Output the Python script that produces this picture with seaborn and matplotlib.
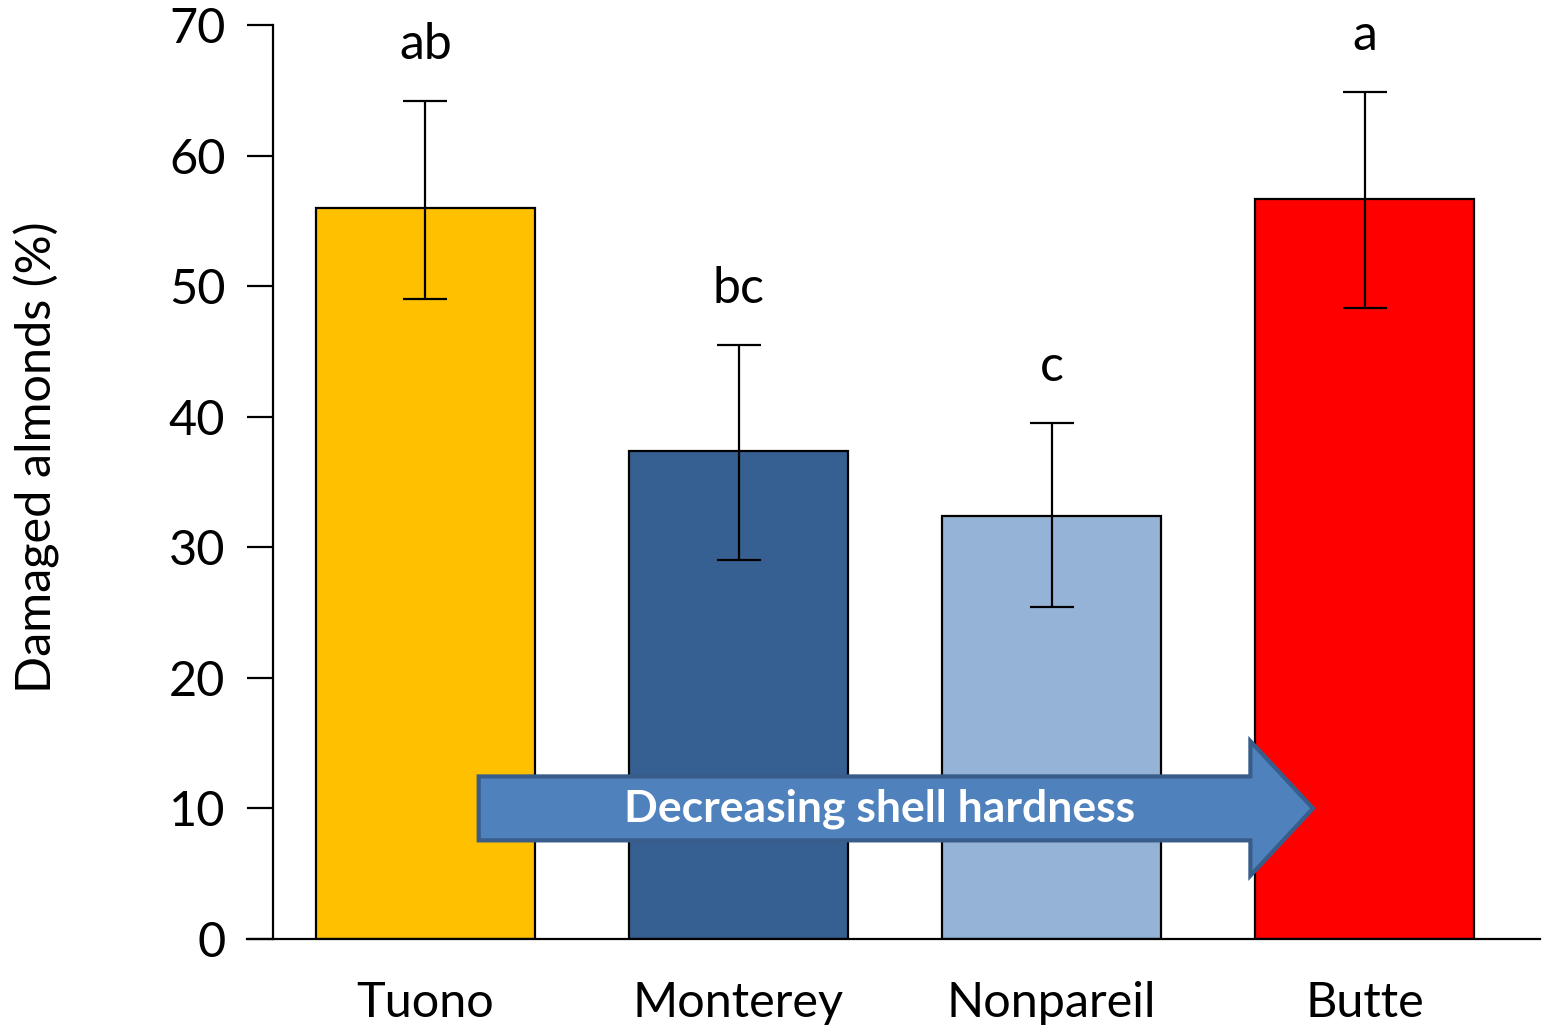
import pandas as pd
import matplotlib
matplotlib.use("Agg")
import matplotlib.pyplot as plt
import seaborn as sns
from matplotlib.patches import FancyArrow

# values
cultivars = ["Tuono", "Monterey", "Nonpareil", "Butte"]
damaged_pct = [56.0, 37.4, 32.4, 56.7]
err_high = [64.2, 45.5, 39.5, 64.9]
err_low = [49.0, 29.0, 25.4, 48.3]
letters = ["ab", "bc", "c", "a"]
bar_colors = ["#FFC000", "#376092", "#95B3D7", "#FF0000"]

df = pd.DataFrame({"cultivar": cultivars, "damaged": damaged_pct})

sns.set_theme(style="white")
plt.rcParams["font.family"] = ["Lato", "DejaVu Sans"]

fig = plt.figure(figsize=(15.44, 10.29), dpi=100)
ax = fig.add_axes([0.16, 0.0875, 0.8374, 0.8882])

sns.barplot(data=df, x="cultivar", y="damaged", hue="cultivar", order=cultivars,
            palette=dict(zip(cultivars, bar_colors)), legend=False, width=0.7,
            edgecolor="black", linewidth=1.6, saturation=1, ax=ax)

yerr = [[m - lo for m, lo in zip(damaged_pct, err_low)],
        [hi - m for m, hi in zip(damaged_pct, err_high)]]
ax.errorbar(range(len(cultivars)), damaged_pct, yerr=yerr, fmt="none",
            ecolor="black", elinewidth=1.6, capsize=16, capthick=1.6, zorder=3)

for i, (lab, hi) in enumerate(zip(letters, err_high)):
    ax.text(i, hi + 3.2, lab, ha="center", va="baseline", fontsize=36, color="black")

# decreasing shell hardness arrow
arrow = FancyArrow(0.17, 10, 2.665, 0, width=4.9, head_width=10.3, head_length=0.2,
                   length_includes_head=True, facecolor="#4F81BD", edgecolor="#385D8A",
                   linewidth=3, zorder=4)
ax.add_patch(arrow)
ax.text(1.45, 10, "Decreasing shell hardness", ha="center", va="center",
        fontsize=32, fontweight="bold", color="white", zorder=5)

ax.set_xlim(-0.57, 3.56)
ax.set_ylim(0, 70)
ax.set_yticks(range(0, 71, 10))
ax.spines["left"].set_position(("data", -0.486))
ax.spines["top"].set_visible(False)
ax.spines["right"].set_visible(False)
for sp in ["left", "bottom"]:
    ax.spines[sp].set_color("black")
    ax.spines[sp].set_linewidth(1.6)
ax.tick_params(axis="y", direction="out", length=18.5, width=1.6, left=True,
               labelsize=35, pad=16, colors="black")
ax.tick_params(axis="x", length=0, labelsize=35, pad=30, colors="black")
ax.set_xlabel("")
ax.set_ylabel("Damaged almonds (%)", fontsize=35, color="black")
ax.yaxis.set_label_coords(-0.145, 0.527)

fig.savefig("out.png", dpi=100)
